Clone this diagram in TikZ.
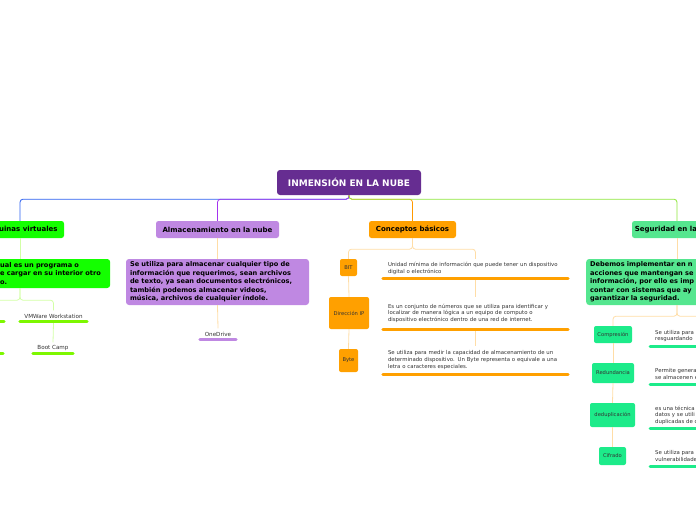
\documentclass[tikz,border=0pt]{standalone}
\usepackage{fontspec}
\setmainfont{DejaVu Sans}
\usetikzlibrary{positioning}
\definecolor{rootpurple}{HTML}{662D91}
\definecolor{linkblue}{HTML}{2B5FF0}
\definecolor{linkpurple}{HTML}{A433EE}
\definecolor{linkorange}{HTML}{FF9900}
\definecolor{linkgreen}{HTML}{8EE63C}
\definecolor{maqgreen}{HTML}{14FF00}
\definecolor{softgreen}{HTML}{D2FFA6}
\definecolor{almpurple}{HTML}{BF88E2}
\definecolor{conorange}{HTML}{FFA000}
\definecolor{peach}{HTML}{FFDDA6}
\definecolor{segmint}{HTML}{55E68F}
\definecolor{leafmint}{HTML}{1DEB8A}
\definecolor{limeline}{HTML}{7DF700}
\definecolor{txtgray}{HTML}{333333}
\tikzset{
  rootbox/.style={fill=rootpurple, text=white, rounded corners=3pt, font=\fontsize{9}{10}\selectfont\bfseries, minimum width=144pt, minimum height=25pt, inner sep=0pt},
  topicbox/.style={rounded corners=2.5pt, font=\fontsize{7}{8}\selectfont\bfseries, minimum height=17pt, inner sep=0pt},
  notebox/.style={rounded corners=3pt, font=\fontsize{6.6}{8.5}\selectfont\bfseries, align=left, inner xsep=4pt, inner ysep=2pt},
  keybox/.style={rounded corners=2pt, font=\fontsize{5.2}{6}\selectfont, text=txtgray, inner sep=0pt},
  desc/.style={font=\fontsize{5.4}{6.6}\selectfont, text=txtgray, align=left, inner xsep=5pt, inner ysep=0pt},
  leaf/.style={font=\fontsize{5.6}{6}\selectfont, text=txtgray, minimum height=11pt, inner sep=0pt},
  uline/.style={line width=3pt, line cap=round},
  link/.style={line width=0.8pt, rounded corners=3pt},
}
\begin{document}
\begin{tikzpicture}[x=1pt,y=-1pt]
\useasboundingbox (0,0) rectangle (696,520);
\clip (0,0) rectangle (696,520);

\node[rootbox] (root) at (349,182.5) {INMENSIÓN EN LA NUBE};

\node[topicbox, fill=maqgreen, minimum width=88pt] (maq) at (20,229.5) {Máquinas virtuales};
\node[topicbox, fill=almpurple, minimum width=123pt] (alm) at (217.5,229.5) {Almacenamiento en la nube};
\node[topicbox, fill=conorange, minimum width=87pt] (con) at (412.5,229.5) {Conceptos básicos};
\node[topicbox, fill=segmint, minimum width=90pt] (seg) at (677,229.5) {Seguridad en la nube};

\draw[link, linkblue] (root.south) -- ++(0,4) -| (maq.north);
\draw[link, linkpurple] (root.south) -- ++(0,4) -| (alm.north);
\draw[link, linkorange] (root.south) -- ++(0,4) -| (con.north);
\draw[link, linkgreen] (root.south) -- ++(0,4) -| (seg.north);

\node[notebox, fill=maqgreen, anchor=west, text width=106pt, minimum height=29pt] (maqnote) at (-4,273.5)
  {ual es un programa o\\e cargar en su interior otro\\o.};
\node[leaf, minimum width=42pt] (vbox) at (-17,316) {VirtualBox};
\node[leaf, minimum width=40pt] (vbox2) at (-17,347.5) {};
\node[leaf, minimum width=67pt] (vmw) at (53.5,316) {VMWare Workstation};
\node[leaf, minimum width=40pt] (boot) at (53,348) {Boot Camp};
\foreach \n in {vbox,vbox2,vmw,boot}
  \draw[uline, limeline] (\n.south west) -- (\n.south east);
\draw[link, softgreen] (maq.south) -- (maq.south |- maqnote.north);
\draw[link, softgreen] (maq.south |- maqnote.south) -- ++(0,12) -| (vmw.north);
\draw[link, softgreen] (maq.south |- maqnote.south) -- ++(0,12) -| (vbox.north);
\draw[link, softgreen] (vmw.south) ++(0,1.5) -- (boot.north);
\draw[link, softgreen] (vbox.south) ++(0,1.5) -- (vbox2.north);

\node[notebox, fill=almpurple, text width=175pt, minimum height=46pt] (almnote) at (217.5,282)
  {Se utiliza para almacenar cualquier tipo de\\información que requerimos, sean archivos\\de texto, ya sean documentos electrónicos,\\también podemos almacenar videos,\\música, archivos de cualquier índole.};
\node[leaf, minimum width=36pt] (onedrive) at (218,334) {OneDrive};
\draw[uline, almpurple] (onedrive.south west) -- (onedrive.south east);
\draw[link, peach] (alm.south) -- (almnote.north);
\draw[link, peach] (almnote.south) -- (onedrive.north);

\node[keybox, fill=conorange, minimum width=17pt, minimum height=17pt] (bit) at (348.5,267.5) {BIT};
\node[keybox, fill=conorange, minimum width=40pt, minimum height=32pt] (ip) at (349,313) {Dirección IP};
\node[keybox, fill=conorange, minimum width=19pt, minimum height=23pt] (byte) at (348.5,360.5) {Byte};
\node[desc, text width=175pt, minimum height=19pt] (bitdesc) at (475.5,268.5)
  {Unidad mínima de información que puede tener un dispositivo\\digital o electrónico};
\node[desc, text width=175pt, minimum height=32pt] (ipdesc) at (475.5,313)
  {Es un conjunto de números que se utiliza para identificar y\\localizar de manera lógica a un equipo de computo o\\dispositivo electrónico dentro de una red de internet.};
\node[desc, text width=175pt, minimum height=28pt] (bytedesc) at (475.5,360)
  {Se utiliza para medir la capacidad de almacenamiento de un\\determinado dispositivo. Un Byte representa o equivale a una\\letra o caracteres especiales.};
\draw[link, peach] (con.south) -- ++(0,11) -| (bit.north);
\draw[link, peach] (con.south) -- ++(0,11) -| (bitdesc.north);
\draw[link, peach] (bit.south) -- (ip.north);
\draw[link, peach] (ip.south) -- (byte.north);
\draw[link, peach] (bitdesc.south) -- (ipdesc.north);
\draw[link, peach] (ipdesc.south) -- (bytedesc.north);
\foreach \n in {bitdesc,ipdesc,bytedesc}
  \draw[uline, conorange] (\n.south west) -- (\n.south east);

\node[notebox, fill=segmint, anchor=west, text width=170pt, minimum height=46pt] (segnote) at (586,282)
  {Debemos implementar en n\\acciones que mantengan se\\información, por ello es imp\\contar con sistemas que ay\\garantizar la seguridad.};
\node[keybox, fill=leafmint, minimum width=38pt, minimum height=17pt] (comp) at (613,334.5) {Compresión};
\node[keybox, fill=leafmint, minimum width=42pt, minimum height=20pt] (redun) at (613,373) {Redundancia};
\node[keybox, fill=leafmint, minimum width=45pt, minimum height=24pt] (dedup) at (612.5,415) {deduplicación};
\node[keybox, fill=leafmint, minimum width=27pt, minimum height=18pt] (cif) at (612.5,456) {Cifrado};
\node[desc, anchor=west, text width=180pt, minimum height=20pt] (compdesc) at (650,336)
  {Se utiliza para\\resguardando};
\node[desc, anchor=west, text width=180pt, minimum height=20pt] (redundesc) at (650,374)
  {Permite genera\\se almacenen e};
\node[desc, anchor=west, text width=180pt, minimum height=26pt] (dedupdesc) at (650,415)
  {es una técnica\\datos y se utili\\duplicadas de d};
\node[desc, anchor=west, text width=180pt, minimum height=20pt] (cifdesc) at (650,456)
  {Se utiliza para\\vulnerabilidade};
\draw[link, peach] (seg.south) -- (seg.south |- segnote.north);
\draw[link, peach] (seg.south |- segnote.south) -- ++(0,11) -| (comp.north);
\draw[link, peach] (seg.south |- segnote.south) -- ++(0,11) -| (compdesc.north);
\draw[link, peach] (comp.south) -- (redun.north);
\draw[link, peach] (redun.south) -- (dedup.north);
\draw[link, peach] (dedup.south) -- (cif.north);
\foreach \n in {compdesc,redundesc,dedupdesc,cifdesc}
  \draw[uline, leafmint] (\n.south west) -- (\n.south east);
\end{tikzpicture}
\end{document}
